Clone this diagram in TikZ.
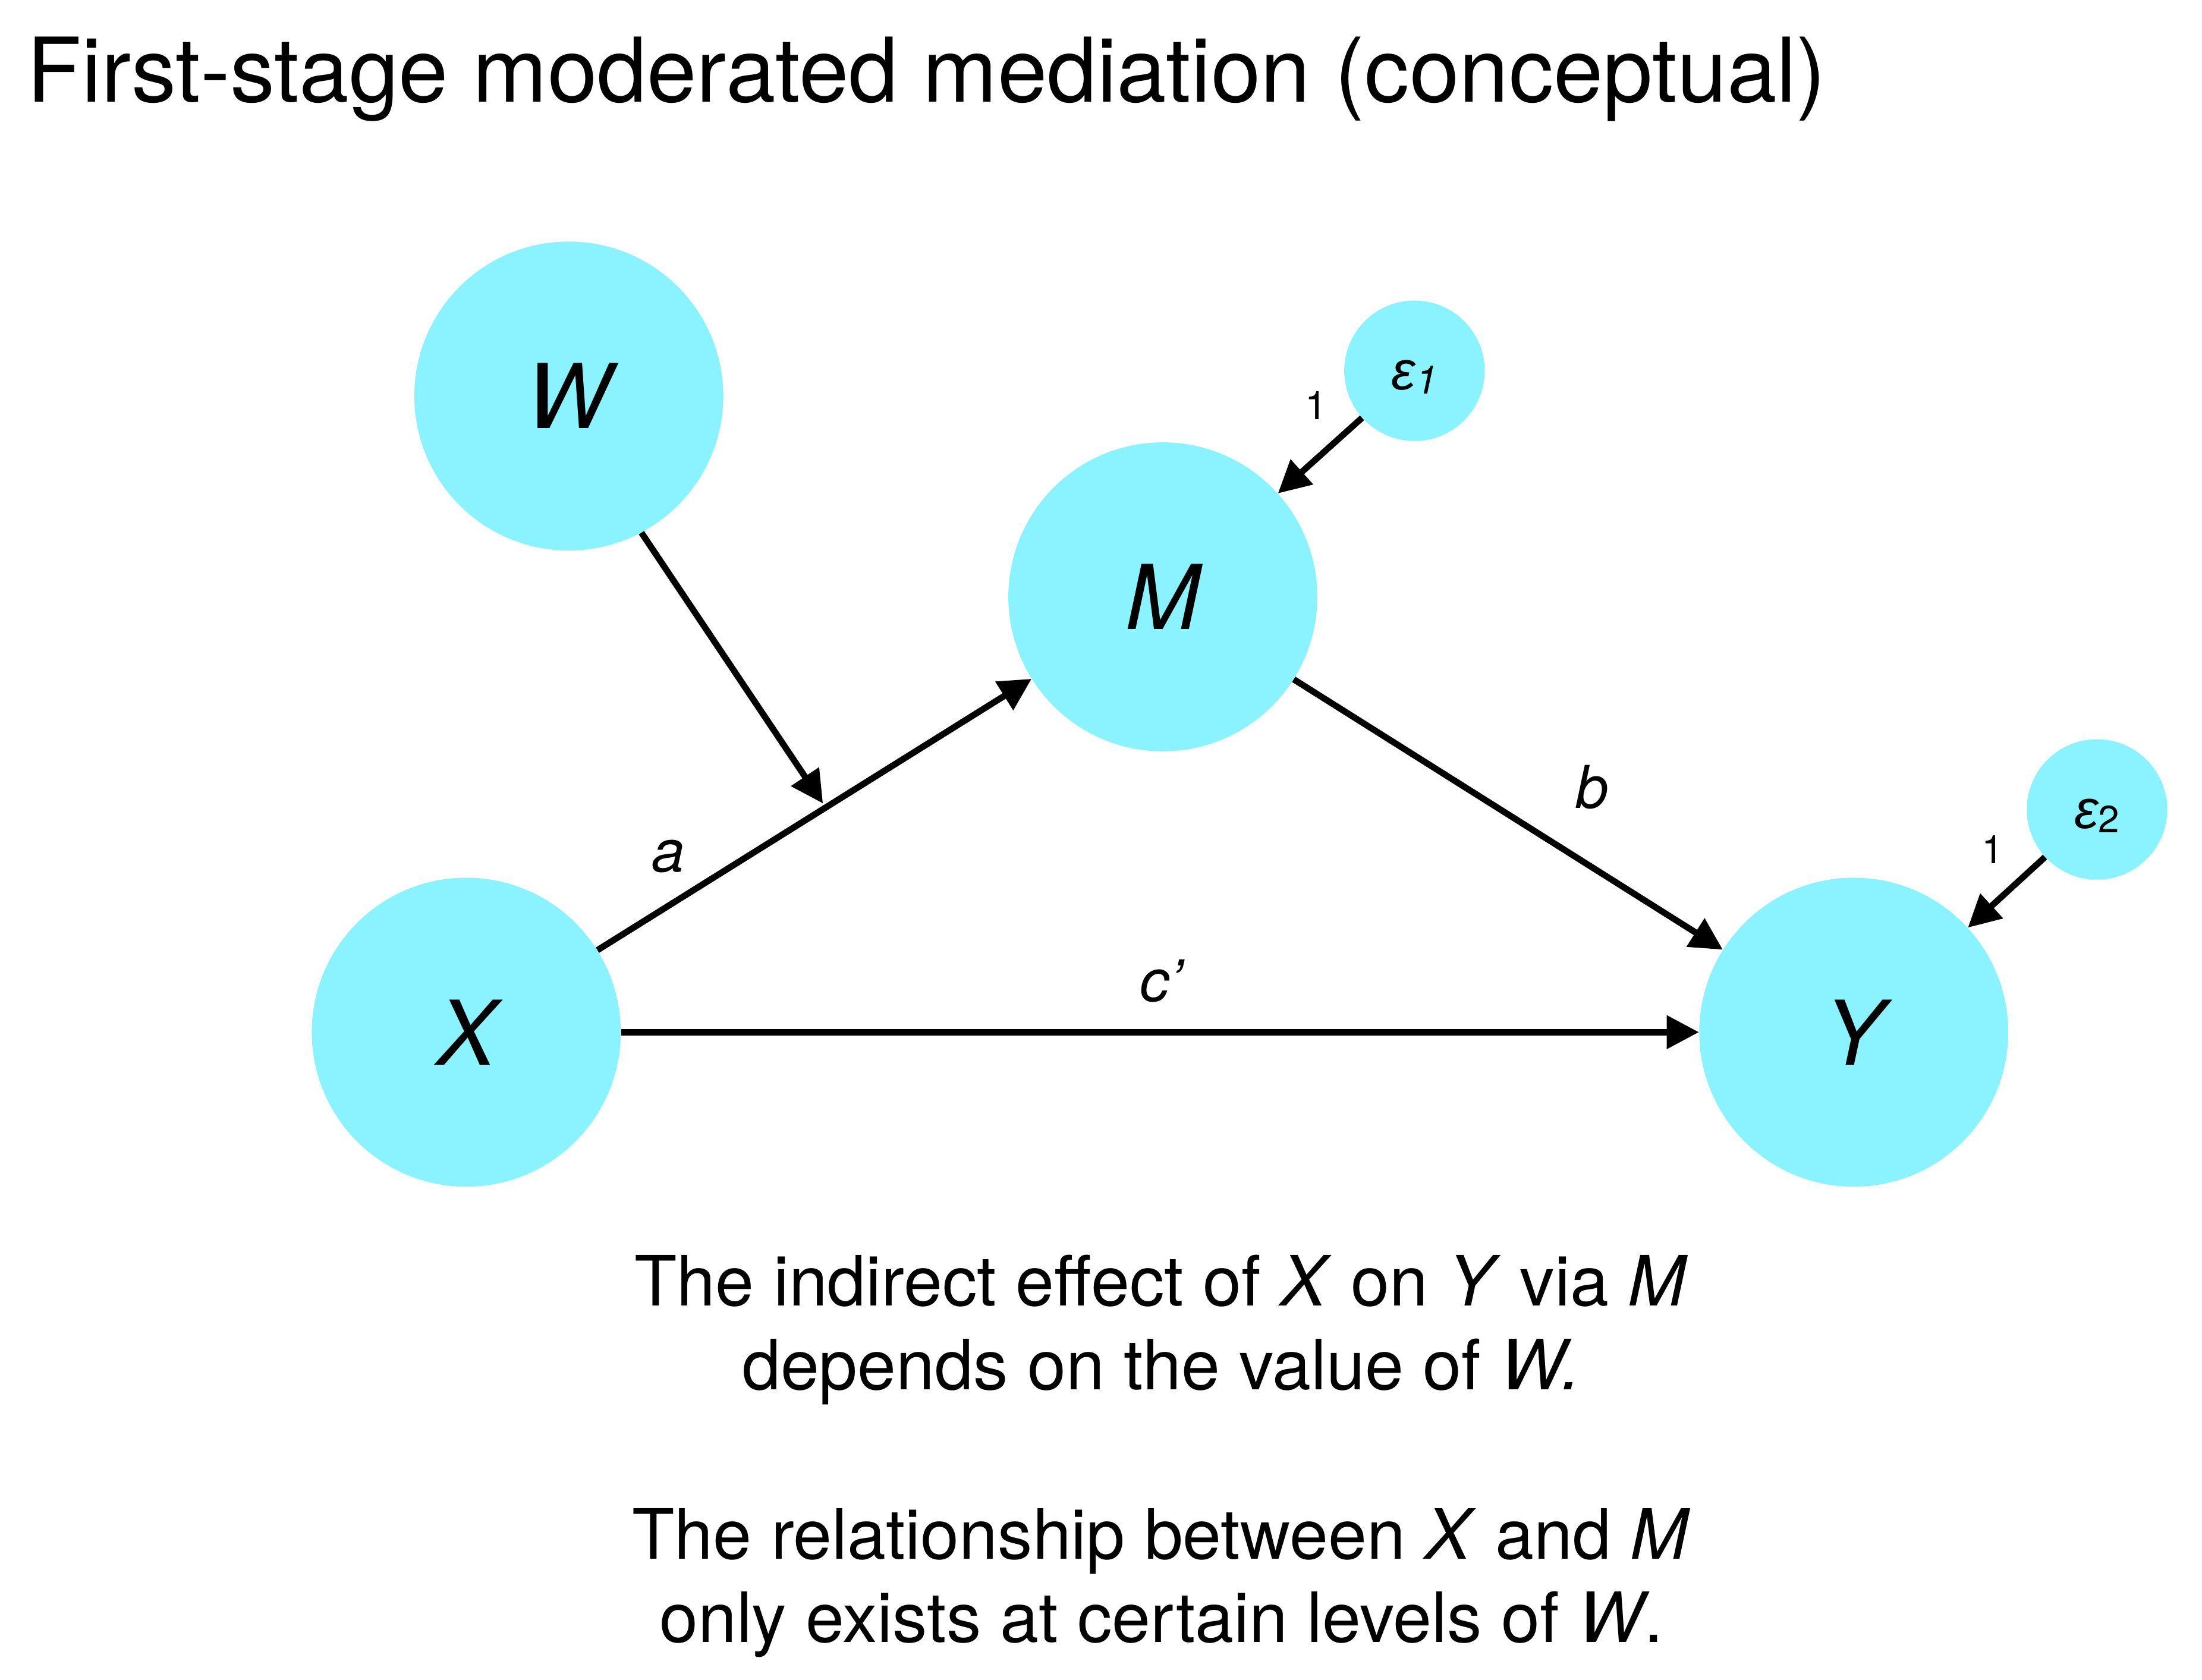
\documentclass[tikz,border=0pt]{standalone}
\usepackage{fontspec}
\setmainfont{TeX Gyre Heros}
\newfontfamily\grkfont{Liberation Sans}
\usetikzlibrary{arrows.meta,calc}
\definecolor{varfill}{RGB}{138,243,255}
\begin{document}
\begin{tikzpicture}[x=1pt,y=-1pt,
  var/.style={circle,fill=varfill,minimum size=220pt,inner sep=0pt,font=\fontsize{63.6}{63.6}\selectfont\itshape},
  err/.style={circle,fill=varfill,minimum size=100pt,inner sep=0pt,text height=27pt,text depth=0pt},
  conn/.style={line width=4.5pt,-{Triangle[length=23pt,width=23pt]}},
  lab/.style={inner sep=0pt,font=\fontsize{42}{42}\selectfont\itshape,anchor=base},
  one/.style={inner sep=0pt,font=\fontsize{28}{28}\selectfont,anchor=base},
  body/.style={inner sep=0pt,font=\fontsize{49.4}{49.4}\selectfont,anchor=base}
]
\useasboundingbox[fill=white] (0,0) rectangle (1568,1196);
\node[inner sep=0pt,anchor=base west,font=\fontsize{63.6}{63.6}\selectfont] (title) at (19,72.8) {First-stage moderated mediation (conceptual)};

\node[var] (W) at (405,282) {W};
\node[var] (M) at (828,425) {M};
\node[var] (X) at (332,735) {X};
\node[var] (Y) at (1320,735) {Y};
\node[err] (e1) at (1007.2,264) {{\fontsize{39}{39}\selectfont\grkfont\itshape ε}\raisebox{-3pt}{\fontsize{28}{28}\selectfont\itshape 1}};
\node[err] (e2) at (1493.2,576.4) {{\fontsize{39}{39}\selectfont\grkfont\itshape ε}\raisebox{-3pt}{\fontsize{27}{27}\selectfont 2}};

\draw[conn] (X) -- (M);
\draw[conn] (M) -- (Y);
\draw[conn] (X) -- (Y);
\coordinate (mod) at ($(X)!0.516!(M)$);
\draw[conn,shorten >=3.5pt] (W.-62) -- (mod);
\draw[conn] (e1) -- (M);
\draw[conn] (e2) -- (Y);

\node[lab] (la) at (476,621) {a};
\node[lab] (lb) at (1133.5,575.4) {b};
\node[lab] (lc) at (827,713) {c’};
\node[one] (n1) at (937.3,298.5) {1};
\node[one] (n2) at (1419,614.7) {1};

\node[body] (t1) at (827,930) {The indirect effect of \textit{X} on \textit{Y} via \textit{M}};
\node[body] (t2) at (827,989.5) {depends on the value of \textit{W.}};
\node[body] (t3) at (827,1110) {The relationship between \textit{X} and \textit{M}};
\node[body] (t4) at (827,1169.5) {only exists at certain levels of \textit{W}.};
\end{tikzpicture}
\end{document}
